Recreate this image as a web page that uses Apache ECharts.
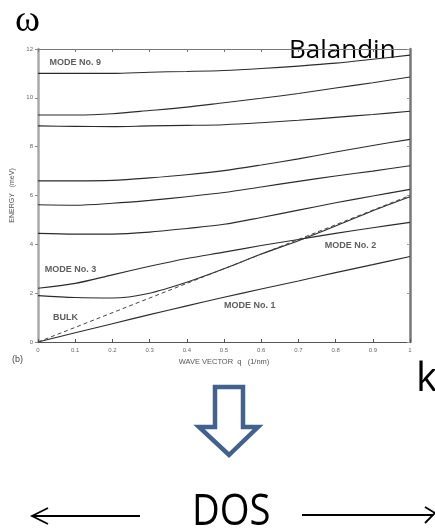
<!DOCTYPE html>
<html><head><meta charset="utf-8">
<script src="https://cdn.jsdelivr.net/npm/echarts@6/dist/echarts.min.js"></script>
<style>html,body{margin:0;padding:0;background:#fff;overflow:hidden}#c{width:435px;height:529px}</style>
</head><body><div id="c"></div>
<script>
// wave vector q (1/nm)
const q = [0, 0.1, 0.2, 0.3, 0.4, 0.5, 0.6, 0.7, 0.8, 0.9, 1.0];
// energies (meV) of the branches
const mode1  = [0, 0.38, 0.75, 1.12, 1.48, 1.83, 2.17, 2.5, 2.84, 3.17, 3.5];
const mode2  = [1.9, 1.82, 1.8, 2.0, 2.45, 3.0, 3.6, 4.15, 4.75, 5.38, 5.95];
const mode3  = [2.2, 2.4, 2.75, 3.1, 3.42, 3.68, 3.95, 4.2, 4.45, 4.68, 4.9];
const mode4  = [4.45, 4.42, 4.42, 4.5, 4.65, 4.82, 5.1, 5.4, 5.7, 5.98, 6.25];
const mode5  = [5.62, 5.6, 5.68, 5.8, 5.95, 6.12, 6.35, 6.58, 6.8, 7.0, 7.22];
const mode6  = [6.6, 6.6, 6.62, 6.72, 6.85, 7.02, 7.25, 7.5, 7.78, 8.05, 8.3];
const mode7  = [8.85, 8.83, 8.82, 8.85, 8.87, 8.9, 8.98, 9.08, 9.2, 9.32, 9.45];
const mode8  = [9.3, 9.3, 9.35, 9.48, 9.62, 9.8, 9.98, 10.18, 10.4, 10.62, 10.85];
const mode9  = [11.0, 11.0, 11.0, 11.05, 11.08, 11.12, 11.2, 11.3, 11.42, 11.58, 11.75];
const bulkQ  = [0, 1];
const bulkE  = [0, 6.0];
// axis ticks
const xTicks = [0, 0.1, 0.2, 0.3, 0.4, 0.5, 0.6, 0.7, 0.8, 0.9, 1];
const yTicks = [0, 2, 4, 6, 8, 10, 12];
// annotation labels [q, E, text]
const noteQ = [0.031, 0.018, 0.04, 0.771, 0.5];
const noteE = [11.46, 2.96, 1.0, 3.95, 1.5];
const noteText = ['MODE No. 9', 'MODE No. 3', 'BULK', 'MODE No. 2', 'MODE No. 1'];

const modes = [mode1, mode2, mode3, mode4, mode5, mode6, mode7, mode8, mode9];
const lineColor = '#2b2b2b';
const series = modes.map((m, i) => ({
  type: 'line', name: 'mode' + (i + 1), xAxisIndex: 0, yAxisIndex: 0,
  data: q.map((x, j) => [x, m[j]]), smooth: 0.3, symbol: 'none',
  lineStyle: { color: lineColor, width: 1.1 }, silent: true
}));
series.push({
  type: 'line', name: 'bulk', data: bulkQ.map((x, j) => [x, bulkE[j]]), symbol: 'none',
  lineStyle: { color: '#444', width: 1, type: [4, 3] }, silent: true
});
series.push({
  type: 'scatter', name: 'notes', symbolSize: 0,
  data: noteQ.map((x, j) => ({ value: [x, noteE[j]], name: noteText[j] })),
  label: { show: true, position: 'right', distance: 0, formatter: p => p.name,
    color: '#333', fontSize: 9, fontFamily: 'Liberation Sans', fontWeight: 'bold' },
  silent: true
});

const axisFont = { color: '#666', fontSize: 6, fontFamily: 'Liberation Sans' };
const chart = echarts.init(document.getElementById('c'), null, { renderer: 'canvas' });
chart.setOption({
  animation: false,
  backgroundColor: '#fff',
  grid: { left: 38, right: 25, top: 49, bottom: 187 },
  xAxis: [
    { type: 'value', min: 0, max: 1, interval: 0.1, position: 'bottom',
      axisLine: { show: true, lineStyle: { color: '#555', width: 1 } },
      axisTick: { inside: true, length: 3, lineStyle: { color: '#555' } },
      axisLabel: Object.assign({ margin: 5, formatter: v => String(+v.toFixed(1)) }, axisFont),
      splitLine: { show: false },
      name: 'WAVE VECTOR  q   (1/nm)', nameLocation: 'middle', nameGap: 16,
      nameTextStyle: { color: '#555', fontSize: 7.5, fontFamily: 'Liberation Sans' } },
    { type: 'value', min: 0, max: 1, interval: 0.1, position: 'top',
      axisLine: { show: true, onZero: false, lineStyle: { color: '#777', width: 1 } },
      axisTick: { inside: true, length: 3, lineStyle: { color: '#777' } },
      axisLabel: { show: false }, splitLine: { show: false } }
  ],
  yAxis: [
    { type: 'value', min: 0, max: 12, interval: 2, position: 'left',
      axisLine: { show: true, lineStyle: { color: '#aaa', width: 2.5 } },
      axisTick: { show: true, inside: false, length: 3, lineStyle: { color: '#888' } },
      axisLabel: Object.assign({ margin: 5 }, axisFont),
      splitLine: { show: false },
      name: 'ENERGY   (meV)', nameLocation: 'middle', nameGap: 15, nameRotate: 90,
      nameTextStyle: { color: '#555', fontSize: 7, fontFamily: 'Liberation Sans' } },
    { type: 'value', min: 0, max: 12, interval: 2, position: 'right',
      axisLine: { show: true, onZero: false, lineStyle: { color: '#777', width: 2.5 } },
      axisTick: { inside: true, length: 3, lineStyle: { color: '#999' } },
      axisLabel: { show: false }, splitLine: { show: false } }
  ],
  series: series,
  graphic: [
    { type: 'text', left: 15, top: 2, style: { text: 'ω', font: '38px "Liberation Serif"', fill: '#000' } },
    { type: 'text', left: 289, top: 38, style: { text: 'Balandin', font: '26px "Open Sans"', fill: '#000' } },
    { type: 'text', left: 416, top: 360, style: { text: 'k', font: '40px "Open Sans"', fill: '#000' } },
    { type: 'text', left: 12, top: 355, style: { text: '(b)', font: '9px "Liberation Sans"', fill: '#444' } },
    { type: 'polygon', shape: { points: [[215, 387], [243, 387], [243, 427], [258, 427], [229, 455], [199, 427], [215, 427]] },
      style: { fill: '#fff', stroke: '#41618f', lineWidth: 4.5, lineJoin: 'miter' } },
    { type: 'text', left: 192, top: 490, scaleX: 0.87, style: { text: 'DOS', font: '44px "Open Sans"', fill: '#000' } },
    { type: 'polyline', shape: { points: [[32, 516], [140, 516]] }, style: { stroke: '#000', lineWidth: 1.8 } },
    { type: 'polyline', shape: { points: [[48, 508], [32, 516], [48, 524]] }, style: { stroke: '#000', lineWidth: 1.8, fill: null } },
    { type: 'polyline', shape: { points: [[302, 515], [433, 515]] }, style: { stroke: '#000', lineWidth: 1.8 } },
    { type: 'polyline', shape: { points: [[425, 507], [435, 513], [425, 523]] }, style: { stroke: '#000', lineWidth: 1.8, fill: null } }
  ]
});
</script></body></html>
